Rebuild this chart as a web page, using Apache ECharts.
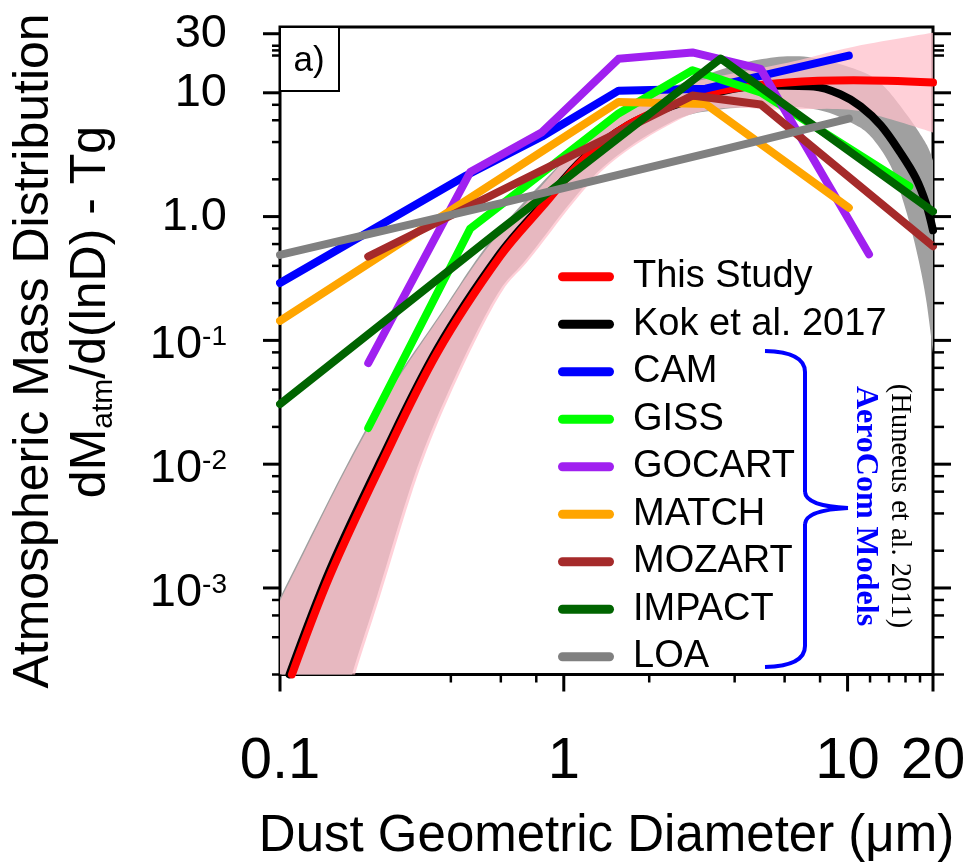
<!DOCTYPE html>
<html><head><meta charset="utf-8">
<script src="https://cdn.jsdelivr.net/npm/echarts@6/dist/echarts.min.js"></script>
<style>html,body{margin:0;padding:0;background:#fff}#c{width:969px;height:867px}</style>
</head><body><div id="c"></div>
<script>
// ---------- data (diameter in um, dM/dlnD in Tg) ----------
const thisStudyD = [0.1102, 0.150, 0.2254, 0.358, 0.597, 0.847, 1.173, 1.677, 2.436, 3.569, 6.15, 10.5, 20];
const thisStudyV = [2.0e-4, 1.26e-3, 9.5e-3, 0.079, 0.478, 1.23, 2.90, 5.45, 8.05, 10.4, 12.1, 12.6, 12.1];

const kokD = [0.108, 0.150, 0.2254, 0.3581, 0.5974, 0.8472, 1.173, 1.677, 2.436, 3.569, 5.06, 7.60, 9.46, 11.13, 13.10, 15.41, 17.41, 18.88, 20];
const kokV = [2.0e-4, 1.41e-3, 0.01044, 0.0851, 0.506, 1.28, 2.95, 5.45, 7.90, 10.24, 11.45, 11.24, 9.69, 7.75, 5.45, 3.24, 2.04, 1.28, 0.775];

const thisStudyBandUpD = [0.1, 0.1177, 0.1719, 0.2444, 0.367, 0.5364, 0.8267, 1.346, 2.02, 3.034, 6.15, 10.52, 20];
const thisStudyBandUpV = [7.9e-4, 1.66e-3, 9.34e-3, 0.039, 0.157, 0.555, 1.72, 5.65, 9.0, 12.6, 17.5, 23.6, 30.6];
const thisStudyBandLoD = [0.1696, 0.1839, 0.2254, 0.312, 0.4316, 0.5974, 0.7625, 1.346, 2.436, 3.569, 5.81, 10.0, 13.86, 20];
const thisStudyBandLoV = [9.0e-5, 2.0e-4, 8.67e-4, 9.34e-3, 0.0552, 0.236, 0.462, 2.276, 5.76, 7.47, 7.33, 7.33, 6.20, 4.78];

const kokBandUpD = [0.1, 0.1719, 0.2444, 0.367, 0.5364, 0.8267, 1.346, 2.02, 3.034, 4.67, 7.01, 10.52, 13.10, 16.05, 18.88, 20];
const kokBandUpV = [8.35e-4, 9.87e-3, 0.0412, 0.163, 0.587, 1.82, 5.35, 9.34, 13.5, 18.2, 19.6, 15.7, 11.9, 6.81, 3.90, 2.84];
const kokBandLoD = [0.1668, 0.1795, 0.2199, 0.3043, 0.4213, 0.5832, 0.7441, 1.314, 2.377, 3.569, 5.81, 8.04, 10.26, 12.07, 14.20, 15.78, 17.41, 18.88, 20];
const kokBandLoV = [9.0e-5, 2.0e-4, 8.67e-4, 9.34e-3, 0.0552, 0.236, 0.462, 2.276, 5.76, 7.33, 7.75, 7.20, 5.76, 4.44, 2.545, 1.28, 0.555, 0.219, 0.079];

const camD = [0.1, 0.453, 0.838, 1.56, 3.16, 10.1];
const camV = [0.291, 2.15, 4.44, 10.4, 10.8, 20.0];
const gissD = [0.2046, 0.468, 0.838, 1.56, 2.84, 4.94, 16.5];
const gissV = [0.0196, 0.80, 2.24, 6.81, 15.2, 10.06, 1.75];
const gocartD = [0.2046, 0.468, 0.838, 1.56, 2.84, 4.94, 11.9];
const gocartV = [0.0656, 2.29, 4.81, 18.8, 21.2, 15.6, 0.497];
const matchD = [0.1, 1.56, 3.16, 10.1];
const matchV = [0.144, 8.43, 8.12, 1.18];
const mozartD = [0.2046, 2.84, 4.94, 20];
const mozartV = [0.476, 9.5, 8.05, 0.576];
const impactD = [0.1, 0.597, 3.57, 20];
const impactV = [0.0306, 0.78, 18.9, 1.10];
const loaD = [0.1, 0.597, 3.57, 10.1];
const loaV = [0.49, 1.28, 3.44, 6.19];

const legendNames = ['This Study', 'Kok et al. 2017', 'CAM', 'GISS', 'GOCART', 'MATCH', 'MOZART', 'IMPACT', 'LOA'];

const xLabelValues = [0.1, 1, 10, 20];
const yLabelValues = [0.001, 0.01, 0.1, 1, 10, 30];
const xMajorTickValues = [0.1, 1, 10, 20];
const xMinorTickValues = [0.4, 0.6, 0.8, 2, 4, 6, 8, 12, 14, 16, 18];
const yMajorTickValues = [0.001, 0.01, 0.1, 1, 10, 30];
const yMinorTickValues = [2e-4, 4e-4, 6e-4, 8e-4, 0.002, 0.004, 0.006, 0.008, 0.02, 0.04, 0.06, 0.08,
                          0.2, 0.4, 0.6, 0.8, 2, 4, 6, 8, 20, 22, 24];

// ---------- helpers ----------
const X_MIN = 0.1, X_MAX = 20, Y_MIN = 2e-4, Y_MAX = 34;
const FONT = '"Liberation Sans", Arial, Helvetica, sans-serif';
const SERIF = '"Liberation Serif", "Times New Roman", serif';
const zip = (a, b) => a.map((v, i) => [v, b[i]]);

function lineSeries(name, d, v, color, width) {
  return {
    type: 'line', name: name, data: zip(d, v), clip: false,
    showSymbol: false, symbol: 'none', smooth: false, silent: true,
    lineStyle: { color: color, width: width || 8, cap: 'round', join: 'round' },
    itemStyle: { color: color },
    emphasis: { disabled: true }
  };
}
function curveSeries(name, d, v, color) {
  const s = lineSeries(name, d, v, color, 8);
  s.smooth = 0.35;
  return s;
}
// Catmull-Rom sampling of already-projected pixel points (rendering only)
function splinePx(pts, n) {
  const out = [];
  for (let i = 0; i < pts.length - 1; i++) {
    const p0 = pts[Math.max(i - 1, 0)], p1 = pts[i], p2 = pts[i + 1], p3 = pts[Math.min(i + 2, pts.length - 1)];
    for (let t = 0; t < n; t++) {
      const s = t / n, s2 = s * s, s3 = s2 * s;
      const f = k => 0.5 * (2 * p1[k] + (-p0[k] + p2[k]) * s + (2 * p0[k] - 5 * p1[k] + 4 * p2[k] - p3[k]) * s2 + (-p0[k] + 3 * p1[k] - 3 * p2[k] + p3[k]) * s3);
      out.push([f(0), f(1)]);
    }
  }
  out.push(pts[pts.length - 1].slice());
  return out;
}
function bandPolygon(api, upD, upV, loD, loV, fill) {
  const up = upD.map((d, i) => api.coord([d, upV[i]]).slice());
  const lo = loD.map((d, i) => api.coord([d, loV[i]]).slice());
  const corner = api.coord([X_MIN, loV[0]]).slice();
  const pts = [corner].concat(splinePx(up, 12), splinePx(lo, 12).reverse());
  return { type: 'polygon', shape: { points: pts }, style: { fill: fill } };
}
const bandsSeries = {
  type: 'custom', clip: true, silent: true, z: 1,
  data: [[1, 1]],
  renderItem: function (params, api) {
    return { type: 'group', children: [
      bandPolygon(api, kokBandUpD, kokBandUpV, kokBandLoD, kokBandLoV, '#a0a0a0'),
      bandPolygon(api, thisStudyBandUpD, thisStudyBandUpV, thisStudyBandLoD, thisStudyBandLoV, 'rgba(255,192,203,0.75)')
    ] };
  }
};

// tick items: [x, y, kind]  kind: 0 left major,1 left minor,2 right major,3 right minor,4 bottom major,5 bottom minor
const tickItems = [];
yMajorTickValues.forEach(v => { tickItems.push([X_MIN, v, 0]); tickItems.push([X_MAX, v, 2]); });
yMinorTickValues.forEach(v => { tickItems.push([X_MIN, v, 1]); tickItems.push([X_MAX, v, 3]); });
xMajorTickValues.forEach(v => tickItems.push([v, Y_MIN, 4]));
xMinorTickValues.forEach(v => tickItems.push([v, Y_MIN, 5]));

const tickSeries = {
  type: 'custom', clip: false, silent: true, z: 20,
  data: tickItems,
  renderItem: function (params, api) {
    const p = api.coord([api.value(0), api.value(1)]);
    const k = api.value(2);
    let x2 = p[0], y2 = p[1];
    if (k === 0) x2 -= 17; else if (k === 1) x2 -= 8;
    else if (k === 2) x2 += 18; else if (k === 3) x2 += 11;
    else if (k === 4) y2 += 17; else y2 += 8;
    return { type: 'line', shape: { x1: p[0], y1: p[1], x2: x2, y2: y2 },
             style: { stroke: '#000', lineWidth: (k === 0 || k === 2 || k === 4) ? 3 : 2.5 } };
  }
};

const braceStyle = { stroke: '#0000ff', lineWidth: 4, fill: null };
const chart = echarts.init(document.getElementById('c'), null, { renderer: 'canvas' });
const option = {
  animation: false,
  backgroundColor: '#fff',
  textStyle: { fontFamily: FONT, color: '#000' },
  grid: { left: 280, right: 36, top: 27, bottom: 190, show: true, borderColor: '#000', borderWidth: 3, backgroundColor: 'transparent' },
  xAxis: {
    type: 'log', logBase: 10, min: X_MIN, max: X_MAX,
    axisLine: { show: false }, axisTick: { show: false }, splitLine: { show: false }, minorTick: { show: false },
    axisLabel: {
      customValues: xLabelValues, margin: 87, verticalAlign: 'middle',
      fontSize: 58, fontFamily: FONT, color: '#000',
      formatter: function (v) { return Math.abs(v - 0.1) < 1e-6 ? '0.1' : String(Math.round(v)); }
    },
    name: 'Dust Geometric Diameter (\u03bcm)', nameLocation: 'middle', nameGap: 162,
    nameTextStyle: { fontSize: 51, fontFamily: FONT, color: '#000', verticalAlign: 'middle' }
  },
  yAxis: {
    type: 'log', logBase: 10, min: Y_MIN, max: Y_MAX,
    axisLine: { show: false }, axisTick: { show: false }, splitLine: { show: false }, minorTick: { show: false },
    axisLabel: {
      customValues: yLabelValues, margin: 53, color: '#000', fontFamily: FONT,
      formatter: function (v) {
        if (Math.abs(v - 30) < 1e-3) return '{p|30}';
        const k = Math.round(Math.log10(v));
        if (k === 1) return '{p|10}';
        if (k === 0) return '{p|1.0}';
        return '{a|10}{b|' + k + '}';
      },
      rich: {
        p: { fontSize: 47, lineHeight: 50, fontFamily: FONT, color: '#000' },
        a: { fontSize: 47, lineHeight: 50, padding: [10, 0, 0, 0], fontFamily: FONT, color: '#000' },
        b: { fontSize: 28, lineHeight: 20, verticalAlign: 'top', padding: [8, 0, 0, 0], fontFamily: FONT, color: '#000' }
      }
    }
  },
  legend: {
    orient: 'vertical', left: 558, top: 256.7, padding: 0, itemGap: 7.5,
    itemWidth: 56, itemHeight: 9, selectedMode: false,
    icon: 'path://M4.5,0H51.5A4.5,4.5,0,0,1,51.5,9H4.5A4.5,4.5,0,0,1,4.5,0Z',
    itemStyle: { borderWidth: 0 },
    textStyle: { fontSize: 38, fontFamily: FONT, color: '#000', lineHeight: 40, padding: [0, 0, 0, 14] },
    data: legendNames
  },
  graphic: [
    { type: 'text', x: 34, y: 351, rotation: Math.PI / 2, z: 100,
      style: { text: 'Atmospheric Mass Distribution', fontSize: 50, fontFamily: FONT, fill: '#000', align: 'center', verticalAlign: 'middle' } },
    { type: 'text', x: 91, y: 312, rotation: Math.PI / 2, z: 100,
      style: { text: '{a|dM}{s|atm}{a|/d(lnD) - Tg}', align: 'center', verticalAlign: 'middle',
        rich: { a: { fontSize: 50, lineHeight: 56, fontFamily: FONT, fill: '#000' },
                s: { fontSize: 30, lineHeight: 24, verticalAlign: 'bottom', fontFamily: FONT, fill: '#000' } } } },
    { type: 'rect', shape: { x: 280, y: 27, width: 59, height: 64 }, z: 100,
      style: { fill: '#fff', stroke: '#000', lineWidth: 2 } },
    { type: 'text', x: 309, y: 61, z: 101,
      style: { text: 'a)', fontSize: 35, fontFamily: FONT, fill: '#000', align: 'center', verticalAlign: 'middle' } },
    { type: 'bezierCurve', z: 100, shape: { x1: 765, y1: 351, cpx1: 805, cpy1: 352, x2: 805, y2: 372 }, style: braceStyle },
    { type: 'line', z: 100, shape: { x1: 805, y1: 372, x2: 805, y2: 492 }, style: braceStyle },
    { type: 'bezierCurve', z: 100, shape: { x1: 805, y1: 492, cpx1: 806, cpy1: 506, x2: 848, y2: 508 }, style: braceStyle },
    { type: 'bezierCurve', z: 100, shape: { x1: 848, y1: 508, cpx1: 806, cpy1: 510, x2: 805, y2: 524 }, style: braceStyle },
    { type: 'line', z: 100, shape: { x1: 805, y1: 524, x2: 805, y2: 646 }, style: braceStyle },
    { type: 'bezierCurve', z: 100, shape: { x1: 805, y1: 646, cpx1: 805, cpy1: 666, x2: 765, y2: 667 }, style: braceStyle },
    { type: 'text', x: 865, y: 506, rotation: -Math.PI / 2, z: 100,
      style: { text: 'AeroCom Models', fontSize: 32, fontWeight: 'bold', fontFamily: SERIF, fill: '#0000ff', align: 'center', verticalAlign: 'middle' } },
    { type: 'text', x: 899, y: 506, rotation: -Math.PI / 2, z: 100,
      style: { text: '(Huneeus et al. 2011)', fontSize: 28.5, fontFamily: SERIF, fill: '#000', align: 'center', verticalAlign: 'middle' } }
  ],
  series: [
    bandsSeries,
    curveSeries('Kok et al. 2017', kokD, kokV, '#000000'),
    curveSeries('This Study', thisStudyD, thisStudyV, '#ff0000'),
    lineSeries('CAM', camD, camV, '#0000ff'),
    lineSeries('GISS', gissD, gissV, '#00ff00'),
    lineSeries('GOCART', gocartD, gocartV, '#a020f0'),
    lineSeries('MATCH', matchD, matchV, '#ffa500'),
    lineSeries('MOZART', mozartD, mozartV, '#a52a2a'),
    lineSeries('IMPACT', impactD, impactV, '#006400'),
    lineSeries('LOA', loaD, loaV, '#808080'),
    tickSeries
  ]
};
chart.setOption(option);
</script>
</body></html>
